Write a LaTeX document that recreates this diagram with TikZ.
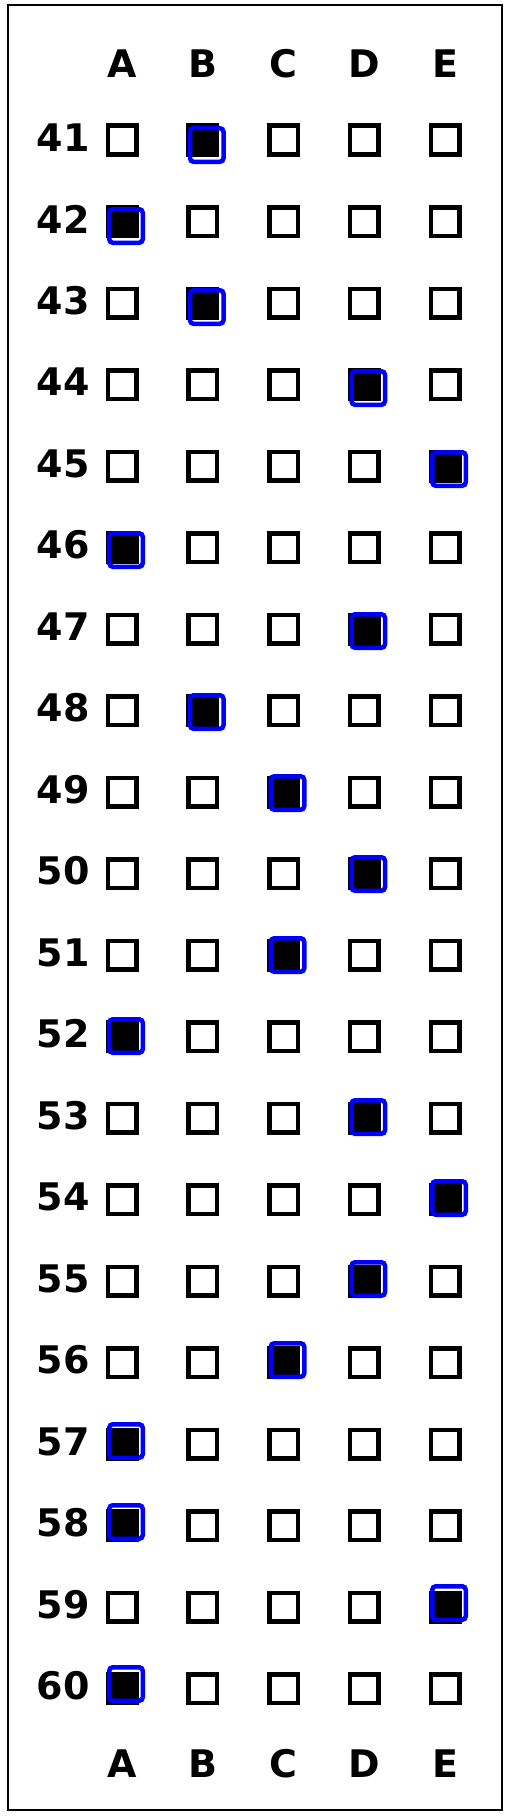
\documentclass[tikz,border=0pt]{standalone}
\usepackage{fontspec}
\setmainfont{DejaVu Sans}
\usepackage{xcolor}
\usepackage{tikz}

\begin{document}
\begin{tikzpicture}
    [%%%%%%%%%%%%%%%%%%%%%%%%%%%%%%
        x=1pt,y=-1pt,
        box/.style={rectangle,draw=black,line width=4.5pt,minimum size=28.5pt,inner sep=0pt},
        filled/.style={box,fill=black},
        picked/.style={rectangle,draw=pickblue,line width=4.5pt,rounded corners=3.5pt,minimum size=33.5pt,inner sep=0pt},
        head/.style={font=\fontsize{38}{38}\selectfont\bfseries,inner sep=0pt}
    ]%%%%%%%%%%%%%%%%%%%%%%%%%%%%%%
\definecolor{pickblue}{rgb}{0.0, 0.0, 1.0}
\useasboundingbox (0,0) rectangle (509,1817);
\draw [line width=1.2pt] (8,5) rectangle (502,1810);

\foreach \c/\l in {1/A,2/B,3/C,4/D,5/E}{
    \node[head] (top-\l) at ({41.25+80.75*\c},64){\l};
    \node[head] (bot-\l) at ({41.25+80.75*\c},1764){\l};
}

\foreach \r in {41,...,60}{
    \node[head,anchor=east] (n\r) at (90,{56+81.5*(\r-40)}){\r};
    \foreach \c/\l in {1/A,2/B,3/C,4/D,5/E}
        \node[box] (b\r-\l) at ({41.25+80.75*\c},{58.5+81.5*(\r-40)}){};
}

\foreach \r/\c/\l in {41/2/B,42/1/A,43/2/B,44/4/D,45/5/E,46/1/A,47/4/D,48/2/B,49/3/C,50/4/D,
                      51/3/C,52/1/A,53/4/D,54/5/E,55/4/D,56/3/C,57/1/A,58/1/A,59/5/E,60/1/A}{
    \node[filled] (f\r) at (b\r-\l){};
    \node[picked] (p\r) at ({45.25+80.75*\c},{64+81*(\r-40)}){};
}

\end{tikzpicture}
\end{document}
